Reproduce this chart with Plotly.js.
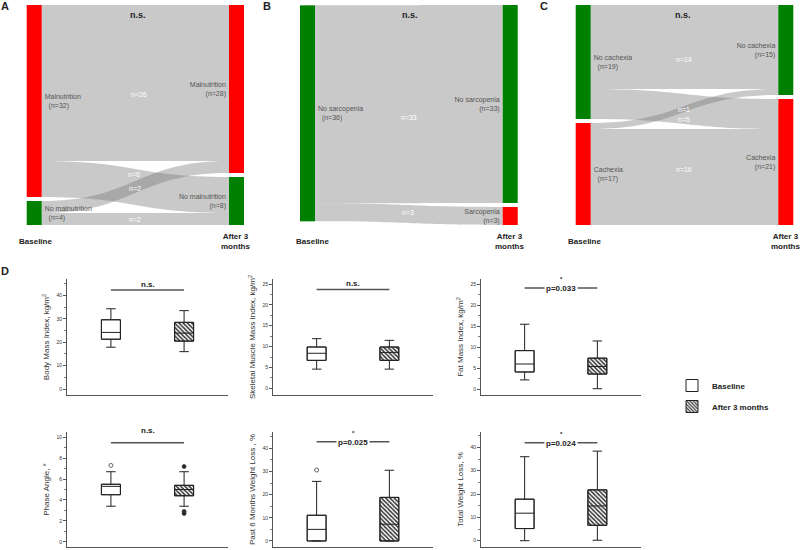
<!DOCTYPE html>
<html><head><meta charset="utf-8">
<script src="https://cdn.plot.ly/plotly-3.0.1.min.js"></script>
<style>html,body{margin:0;padding:0;background:#fff}</style>
</head><body><div id="chart" style="width:800px;height:550px"></div>
<script>
// ---------- Sankey A: malnutrition ----------
const malNames = ['Malnutrition', 'No malnutrition', 'Malnutrition', 'No malnutrition'];
const malColors = ['#ff0000', '#008000', '#ff0000', '#008000'];
const malSource = [0, 0, 1, 1];
const malTarget = [2, 3, 2, 3];
const malValue = [26, 6, 2, 2];
// ---------- Sankey B: sarcopenia ----------
const sarcNames = ['No sarcopenia', 'No sarcopenia', 'Sarcopenia'];
const sarcColors = ['#008000', '#008000', '#ff0000'];
const sarcSource = [0, 0];
const sarcTarget = [1, 2];
const sarcValue = [33, 3];
// ---------- Sankey C: cachexia ----------
const cachNames = ['No cachexia', 'Cachexia', 'No cachexia', 'Cachexia'];
const cachColors = ['#008000', '#ff0000', '#008000', '#ff0000'];
const cachSource = [0, 0, 1, 1];
const cachTarget = [2, 3, 2, 3];
const cachValue = [14, 5, 1, 16];

// ---------- Box plots: [lower whisker, Q1, median, Q3, upper whisker] ----------
const groups = ['Baseline', 'After 3 months'];
const bmiBaseline = [17.9, 21.3, 24.2, 29.6, 34.3];
const bmiAfter    = [16.0, 20.5, 23.9, 28.5, 33.5];
const smiBaseline = [4.6, 6.7, 8.4, 9.9, 11.9];
const smiAfter    = [4.6, 6.7, 8.6, 9.9, 11.5];
const fmiBaseline = [2.2, 4.1, 6.0, 9.2, 15.5];
const fmiAfter    = [0.1, 3.6, 5.4, 7.4, 11.5];
const paBaseline  = [3.4, 4.5, 5.3, 5.5, 6.7];
const paAfter     = [3.4, 4.4, 5.0, 5.4, 6.7];
const pwlBaseline = [0, 0, 5.0, 11.1, 25.7];
const pwlAfter    = [0, 0, 7.2, 18.8, 30.5];
const twlBaseline = [0, 5.2, 11.8, 17.8, 36.0];
const twlAfter    = [0.2, 6.6, 14.9, 21.8, 38.4];
const paOutBaseline  = [7.3];
const paOutAfter     = [7.2, 2.9, 2.7];
const pwlOutBaseline = [30.6];

const FONT = 'Liberation Sans, Arial, sans-serif';
const W = 800, H = 550;
const px = v => v / W;
const py = v => 1 - v / H;

function nodeLabels(names, src, tgt, val) {
  return names.map((n, i) => {
    let out = 0, inn = 0;
    src.forEach((s, k) => { if (s === i) out += val[k]; });
    tgt.forEach((t, k) => { if (t === i) inn += val[k]; });
    return n + '<br>  (n=' + Math.max(out, inn) + ')';
  });
}

function sankey(names, colors, src, tgt, val, x0, x1) {
  return {
    type: 'sankey', arrangement: 'fixed',
    domain: { x: [px(x0), px(x1)], y: [py(225), py(5)] },
    node: { label: nodeLabels(names, src, tgt, val), color: colors, pad: 4, thickness: 15,
            line: { width: 0 }, hoverinfo: 'none' },
    link: { source: src, target: tgt, value: val, color: val.map(() => 'rgba(120,120,120,0.4)'),
            hoverinfo: 'none' },
    textfont: { family: FONT, size: 7, color: '#555', shadow: 'none' }
  };
}

const traces = [
  sankey(malNames, malColors, malSource, malTarget, malValue, 26.7, 244),
  sankey(sarcNames, sarcColors, sarcSource, sarcTarget, sarcValue, 300, 517.7),
  sankey(cachNames, cachColors, cachSource, cachTarget, cachValue, 575.7, 793.3)
];

const hatch = { shape: '\\', size: 3, solidity: 0.5, fgcolor: '#333', bgcolor: '#fff' };

function addBoxes(ax, stats, showLegend) {
  const xa = ax === 1 ? 'x' : 'x' + ax, ya = ax === 1 ? 'y' : 'y' + ax;
  stats.forEach((s, i) => {
    traces.push({
      type: 'bar', x: [groups[i]], base: [s[1]], y: [s[3] - s[1]], width: 0.26,
      xaxis: xa, yaxis: ya, name: groups[i], legendgroup: groups[i], showlegend: showLegend,
      marker: Object.assign({ color: '#fff', line: { color: '#222', width: 1 } },
                            i === 1 ? { pattern: hatch } : {}),
      hoverinfo: 'skip'
    });
    traces.push({
      type: 'box', x: [groups[i]], lowerfence: [s[0]], q1: [s[1]], median: [s[2]], q3: [s[3]],
      upperfence: [s[4]], width: 0.26, whiskerwidth: 0.5, fillcolor: 'rgba(0,0,0,0)',
      line: { color: '#222', width: 1 }, xaxis: xa, yaxis: ya, showlegend: false, hoverinfo: 'skip'
    });
  });
}
function addOutliers(ax, i, vals, filled) {
  const xa = ax === 1 ? 'x' : 'x' + ax, ya = ax === 1 ? 'y' : 'y' + ax;
  traces.push({
    type: 'scatter', mode: 'markers', x: vals.map(() => groups[i]), y: vals, xaxis: xa, yaxis: ya,
    showlegend: false, hoverinfo: 'skip',
    marker: { size: 4, color: filled ? '#222' : '#fff', line: { color: '#444', width: 0.8 } }
  });
}

addBoxes(1, [bmiBaseline, bmiAfter], true);
addBoxes(2, [smiBaseline, smiAfter], false);
addBoxes(3, [fmiBaseline, fmiAfter], false);
addBoxes(4, [paBaseline, paAfter], false);
addBoxes(5, [pwlBaseline, pwlAfter], false);
addBoxes(6, [twlBaseline, twlAfter], false);
addOutliers(4, 0, paOutBaseline, false);
addOutliers(4, 1, paOutAfter, true);
addOutliers(5, 0, pwlOutBaseline, false);

const colX = [[67, 228], [273, 433], [481, 641]];
const rowY = [[279, 395], [432, 547]];
const yTitles = ['Body Mass Index, kg/m<sup>2</sup>', 'Skeletal Muscle Mass Index, kg/m<sup>2</sup>',
  'Fat Mass Index, kg/m<sup>2</sup>', 'Phase Angle, °', 'Past 6 Months Weight Loss , %', 'Total Weight Loss, %'];
const yRanges = [[-2.5, 47], [-1.6, 26.2], [-1.4, 26.3], [-0.5, 10.5], [-2.6, 47], [-2.7, 46.6]];
const yDticks = [10, 5, 5, 2, 10, 10];

const layout = {
  width: W, height: H, margin: { l: 0, r: 0, t: 0, b: 0 },
  paper_bgcolor: '#fff', plot_bgcolor: 'rgba(0,0,0,0)',
  font: { family: FONT, color: '#333' },
  barmode: 'overlay', boxmode: 'overlay',
  showlegend: true,
  legend: { x: px(672), y: py(371), xanchor: 'left', yanchor: 'top', traceorder: 'grouped',
            tracegroupgap: 2, font: { family: FONT, size: 8, color: '#222', weight: 'bold' },
            bgcolor: 'rgba(0,0,0,0)' },
  annotations: [], shapes: []
};

for (let k = 0; k < 6; k++) {
  const c = colX[k % 3], r = rowY[Math.floor(k / 3)];
  const sx = k === 0 ? '' : String(k + 1);
  layout['xaxis' + sx] = {
    domain: [px(c[0]), px(c[1])], anchor: 'y' + sx, type: 'category', range: [-0.6, 1.6],
    showticklabels: false, ticks: '', showline: true, linecolor: '#555', linewidth: 1,
    showgrid: false, zeroline: false, fixedrange: true
  };
  layout['yaxis' + sx] = {
    domain: [py(r[1]), py(r[0])], anchor: 'x' + sx, range: yRanges[k], tick0: 0, dtick: yDticks[k],
    ticks: 'outside', ticklen: 3, tickcolor: '#555', tickfont: { size: 5, color: '#333' },
    showline: true, linecolor: '#555', linewidth: 1, showgrid: false, zeroline: false,
    minor: { ticks: 'outside', ticklen: 2, dtick: yDticks[k] / 2, tickcolor: '#777', showgrid: false },
    title: { text: yTitles[k], font: { size: 8, color: '#333' }, standoff: 5 }, fixedrange: true
  };
}

function ann(text, x, y, size, opts) {
  layout.annotations.push(Object.assign({ text, x: px(x), y: py(y), xref: 'paper', yref: 'paper',
    showarrow: false, xanchor: 'center', yanchor: 'middle',
    font: { family: FONT, size, color: '#222' } }, opts || {}));
}

// panel letters
ann('<b>A</b>', 5, 6, 11); ann('<b>B</b>', 267, 6, 11); ann('<b>C</b>', 544, 6, 11); ann('<b>D</b>', 5, 271, 11);
// sankey headers / footers
[[138, 35, 235], [410, 312, 509], [683, 584, 785]].forEach(p => {
  ann('<b>n.s.</b>', p[0], 15, 9);
  ann('<b>Baseline</b>', p[1], 242, 8);
  ann('<b>After 3<br>months</b>', p[2], 242, 8);
});
// link labels
const wf = { font: { family: FONT, size: 7, color: '#fff' } };
[[139, 94], [134, 174], [135, 188], [135, 219]].forEach((p, i) => ann('n=' + malValue[i], p[0], p[1], 7, wf));
[[409, 117], [408, 213]].forEach((p, i) => ann('n=' + sarcValue[i], p[0], p[1], 7, wf));
[[684, 59], [684, 120], [684, 109], [684, 169]].forEach((p, i) => ann('n=' + cachValue[i], p[0], p[1], 7, wf));

// significance bars
function sig(ax, yLine, label, star) {
  const sx = ax === 1 ? '' : String(ax);
  layout.shapes.push({ type: 'line', xref: 'x' + sx, yref: 'paper', x0: 0, x1: 1,
    y0: py(yLine), y1: py(yLine), line: { color: '#555', width: 1.5 } });
  const xa = 'x' + sx;
  if (star) {
    layout.annotations.push({ text: '<b>*</b>', xref: xa, yref: 'paper', x: 0.5, y: py(yLine - 9),
      yanchor: 'middle', showarrow: false, font: { family: FONT, size: 6, color: '#222' } });
    layout.annotations.push({ text: '<b>' + label + '</b>', xref: xa, yref: 'paper', x: 0.5, y: py(yLine + 0.5),
      yanchor: 'middle', showarrow: false, bgcolor: '#fff', borderpad: 1,
      font: { family: FONT, size: 8, color: '#222' } });
  } else {
    layout.annotations.push({ text: '<b>' + label + '</b>', xref: xa, yref: 'paper', x: 0.5, y: py(yLine - 6),
      showarrow: false, font: { family: FONT, size: 8, color: '#222' } });
  }
}
sig(1, 290, 'n.s.', false);
sig(2, 289.5, 'n.s.', false);
sig(3, 288, 'p=0.033', true);
sig(4, 442.7, 'n.s.', false);
sig(5, 441.7, 'p=0.025', true);
sig(6, 442.7, 'p=0.024', true);

Plotly.newPlot('chart', traces, layout, { staticPlot: true, displayModeBar: false });
</script></body></html>
